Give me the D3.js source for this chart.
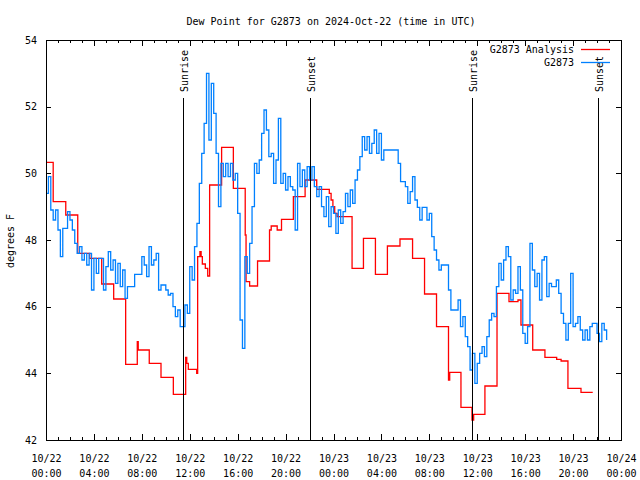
<!DOCTYPE html>
<html><head><meta charset="utf-8">
<script src="https://cdn.jsdelivr.net/npm/d3@7"></script>
<style>
body{margin:0;background:#fff}
svg{display:block;background:#fff}
text{font-family:"DejaVu Sans Mono","Liberation Mono",monospace;font-size:10px;fill:#000}
</style></head><body>
<svg id="c" width="640" height="480"></svg>
<script>
// ---- data ----
const title = "Dew Point for G2873 on 2024-Oct-22 (time in UTC)";
const yLabel = "degrees F";
const xTickHours = [0,4,8,12,16,20,24,28,32,36,40,44,48];
const xTickDates = ["10/22","10/22","10/22","10/22","10/22","10/22","10/23","10/23","10/23","10/23","10/23","10/23","10/24"];
const xTickTimes = ["00:00","04:00","08:00","12:00","16:00","20:00","00:00","04:00","08:00","12:00","16:00","20:00","00:00"];
const yTicks = [42,44,46,48,50,52,54];
const sunLabels = ["Sunrise","Sunset","Sunrise","Sunset"];
const sunHours = [11.46, 22.04, 35.53, 46.1];
const seriesNames = ["G2873 Analysis","G2873"];
const seriesColors = ["#ff0000","#0080ff"];

// analysis (hours since 10/22 00:00 UTC, deg F) drawn as steps
const redT = [0,0.6,1.65,2.65,3.65,4.65,5.65,6.65,7.62,7.7,8.62,9.6,10.63,11.66,11.75,11.88,12.58,12.66,12.85,12.95,13.05,13.3,13.5,13.66,14.66,15.64,16.63,16.7,17.0,17.66,18.66,18.8,19.3,19.66,20.65,21.63,22.6,23.65,23.8,23.95,24.1,24.3,25.55,26.5,27.5,28.5,29.55,30.6,31.6,32.6,33.6,33.7,34.64,35.56,35.7,36.64,37.65,38.65,39.4,39.65,40.63,41.65,42.63,43.0,43.57,44.66,45.64];
const redV = [50.33,49.15,48.75,47.6,47.45,46.68,46.23,44.27,44.95,44.7,44.3,43.88,43.37,44.48,44.3,44.12,44.0,47.5,47.65,47.5,47.28,47.15,46.92,49.65,50.78,49.55,48.15,46.75,46.62,47.37,48.3,48.42,48.3,48.62,49.3,49.8,49.52,49.4,49.2,49.0,48.8,48.7,47.15,48.05,46.97,47.82,48.03,47.45,46.38,45.4,43.8,44.03,42.98,42.6,42.77,43.62,46.4,46.15,46.2,45.45,44.7,44.48,44.42,44.37,43.55,43.43,43.43];

// observations, one reading every 0.2 h from 10/22 00:00
const blueStartHour = 0;
const blueStepHours = 0.2;
const blueV = [
 49.4,49.9,48.9,48.6,48.9,48.3,47.5,48.35,48.35,48.85,
 48.6,48.3,47.9,47.6,47.8,47.4,47.6,47.25,47.6,46.5,
 47.45,47.0,47.45,47.45,46.5,47.2,47.65,47.1,47.4,46.7,
 47.3,46.6,47.1,46.25,46.6,46.6,46.6,46.97,46.97,46.97,
 47.5,47.25,46.9,47.8,47.25,47.4,47.6,46.5,46.65,46.65,
 46.5,46.35,46.4,46.0,45.7,45.9,45.4,45.4,46.05,45.8,
 47.2,46.8,47.8,48.5,49.7,50.6,51.5,53.0,51.0,52.7,
 51.8,50.6,49.0,50.3,49.9,50.3,49.9,50.3,49.8,50.0,
 48.8,45.6,44.75,47.5,47.0,47.9,49.0,50.3,50.0,50.4,
 51.2,51.9,51.3,50.5,50.6,49.7,50.4,51.65,49.7,50.0,
 49.5,49.9,49.6,49.5,48.3,50.3,49.6,50.1,49.6,50.2,
 49.8,50.2,49.6,49.3,49.6,49.0,48.7,49.3,48.4,49.0,
 48.8,48.2,48.9,48.5,48.85,49.4,49.0,49.5,49.1,49.8,
 50.1,50.5,51.1,50.7,51.1,50.6,50.9,51.3,50.6,51.2,
 50.4,50.7,50.7,50.7,50.7,50.7,50.7,50.3,49.75,49.75,
 49.6,49.1,49.45,49.9,49.2,48.98,48.6,48.98,48.98,48.6,
 48.8,48.1,47.7,47.4,47.1,47.25,47.25,47.25,46.5,45.9,
 45.9,45.9,46.2,45.4,45.7,45.1,44.8,44.1,44.6,43.7,
 44.3,44.6,44.8,44.5,45.1,45.6,45.8,45.7,46.6,47.3,
 46.8,47.4,47.8,47.5,46.2,46.5,46.4,47.2,46.5,45.2,
 44.9,45.4,47.9,47.1,46.6,47.0,46.2,47.4,47.5,46.3,
 46.7,46.6,46.6,46.8,46.4,45.8,45.5,45.0,45.5,47.0,
 45.4,45.5,45.7,45.3,45.0,45.3,45.0,45.4,45.5,45.5,
 45.2,44.95,45.5,45.3,45.0
];

// ---- drawing ----
const svg = d3.select("#c");
const L = 46, R = 621, T = 40, B = 440;
const x = d3.scaleLinear().domain([0,48]).range([L,R]);
const y = d3.scaleLinear().domain([42,54]).range([B,T]);

svg.append("text").attr("x",331).attr("y",25).attr("text-anchor","middle").text(title);
svg.append("text").attr("transform","translate(14,241) rotate(-90)").attr("text-anchor","middle").text(yLabel);

const minorHours = d3.range(0,49,1);
// bottom minor + major
svg.append("g").attr("transform",`translate(0,${B})`)
  .call(d3.axisBottom(x).tickValues(minorHours).tickSizeInner(-3).tickSizeOuter(0).tickFormat(""))
  .call(g=>g.select(".domain").remove());
const bx = svg.append("g").attr("transform",`translate(0,${B})`)
  .call(d3.axisBottom(x).tickValues(xTickHours).tickSizeInner(-6).tickSizeOuter(0))
  .call(g=>g.select(".domain").remove());
bx.selectAll(".tick text").each(function(d,i){
  const t = d3.select(this).attr("dy",null).attr("y",null).text(null);
  t.append("tspan").attr("x",0).attr("y",22).text(xTickDates[i]);
  t.append("tspan").attr("x",0).attr("y",37).text(xTickTimes[i]);
});
// top mirror
svg.append("g").attr("transform",`translate(0,${T})`)
  .call(d3.axisTop(x).tickValues(minorHours).tickSizeInner(-3).tickSizeOuter(0).tickFormat(""))
  .call(g=>g.select(".domain").remove());
svg.append("g").attr("transform",`translate(0,${T})`)
  .call(d3.axisTop(x).tickValues(xTickHours).tickSizeInner(-6).tickSizeOuter(0).tickFormat(""))
  .call(g=>g.select(".domain").remove());
// left / right
svg.append("g").attr("transform",`translate(${L},0)`)
  .call(d3.axisLeft(y).tickValues(yTicks).tickSizeInner(-5).tickSizeOuter(0).tickPadding(9).tickFormat(d3.format("d")))
  .call(g=>g.select(".domain").remove());
svg.append("g").attr("transform",`translate(${R},0)`)
  .call(d3.axisRight(y).tickValues(yTicks).tickSizeInner(-5).tickSizeOuter(0).tickFormat(""))
  .call(g=>g.select(".domain").remove());
svg.selectAll(".tick line").attr("stroke","#000").attr("shape-rendering","crispEdges");
svg.selectAll(".tick text").attr("fill","#000").style("font-family",'"DejaVu Sans Mono",monospace').style("font-size","10px");

// series
const redData = redT.map((t,i)=>[t,redV[i]]);
const blueData = blueV.map((v,i)=>[blueStartHour + i*blueStepHours, v]);
const line = d3.line().x(d=>x(d[0])).y(d=>y(d[1])).curve(d3.curveStepAfter);
svg.append("path").datum(redData).attr("d",line).attr("fill","none")
  .attr("stroke",seriesColors[0]).attr("stroke-width",1.3);
svg.append("path").datum(blueData).attr("d",line).attr("fill","none")
  .attr("stroke",seriesColors[1]).attr("stroke-width",1.3);

// sunrise/sunset
const sun = svg.append("g");
sunHours.forEach((h,i)=>{
  const sx = Math.round(x(h))+0.5;
  sun.append("line").attr("x1",sx).attr("x2",sx).attr("y1",98).attr("y2",B)
    .attr("stroke","#000").attr("stroke-width",1);
  sun.append("text").attr("transform",`translate(${sx+4.5},92) rotate(-90)`)
    .attr("text-anchor","start").text(sunLabels[i]);
});

// legend
seriesNames.forEach((n,i)=>{
  const ly = 49.5 + i*13;
  svg.append("text").attr("x",574).attr("y",ly+3.5).attr("text-anchor","end").text(n);
  svg.append("line").attr("x1",581).attr("x2",610).attr("y1",ly).attr("y2",ly)
    .attr("stroke",seriesColors[i]).attr("stroke-width",1.3);
});

// frame
svg.append("rect").attr("x",L+0.5).attr("y",T+0.5).attr("width",R-L).attr("height",B-T)
  .attr("fill","none").attr("stroke","#000").attr("stroke-width",1);
</script>
</body></html>
